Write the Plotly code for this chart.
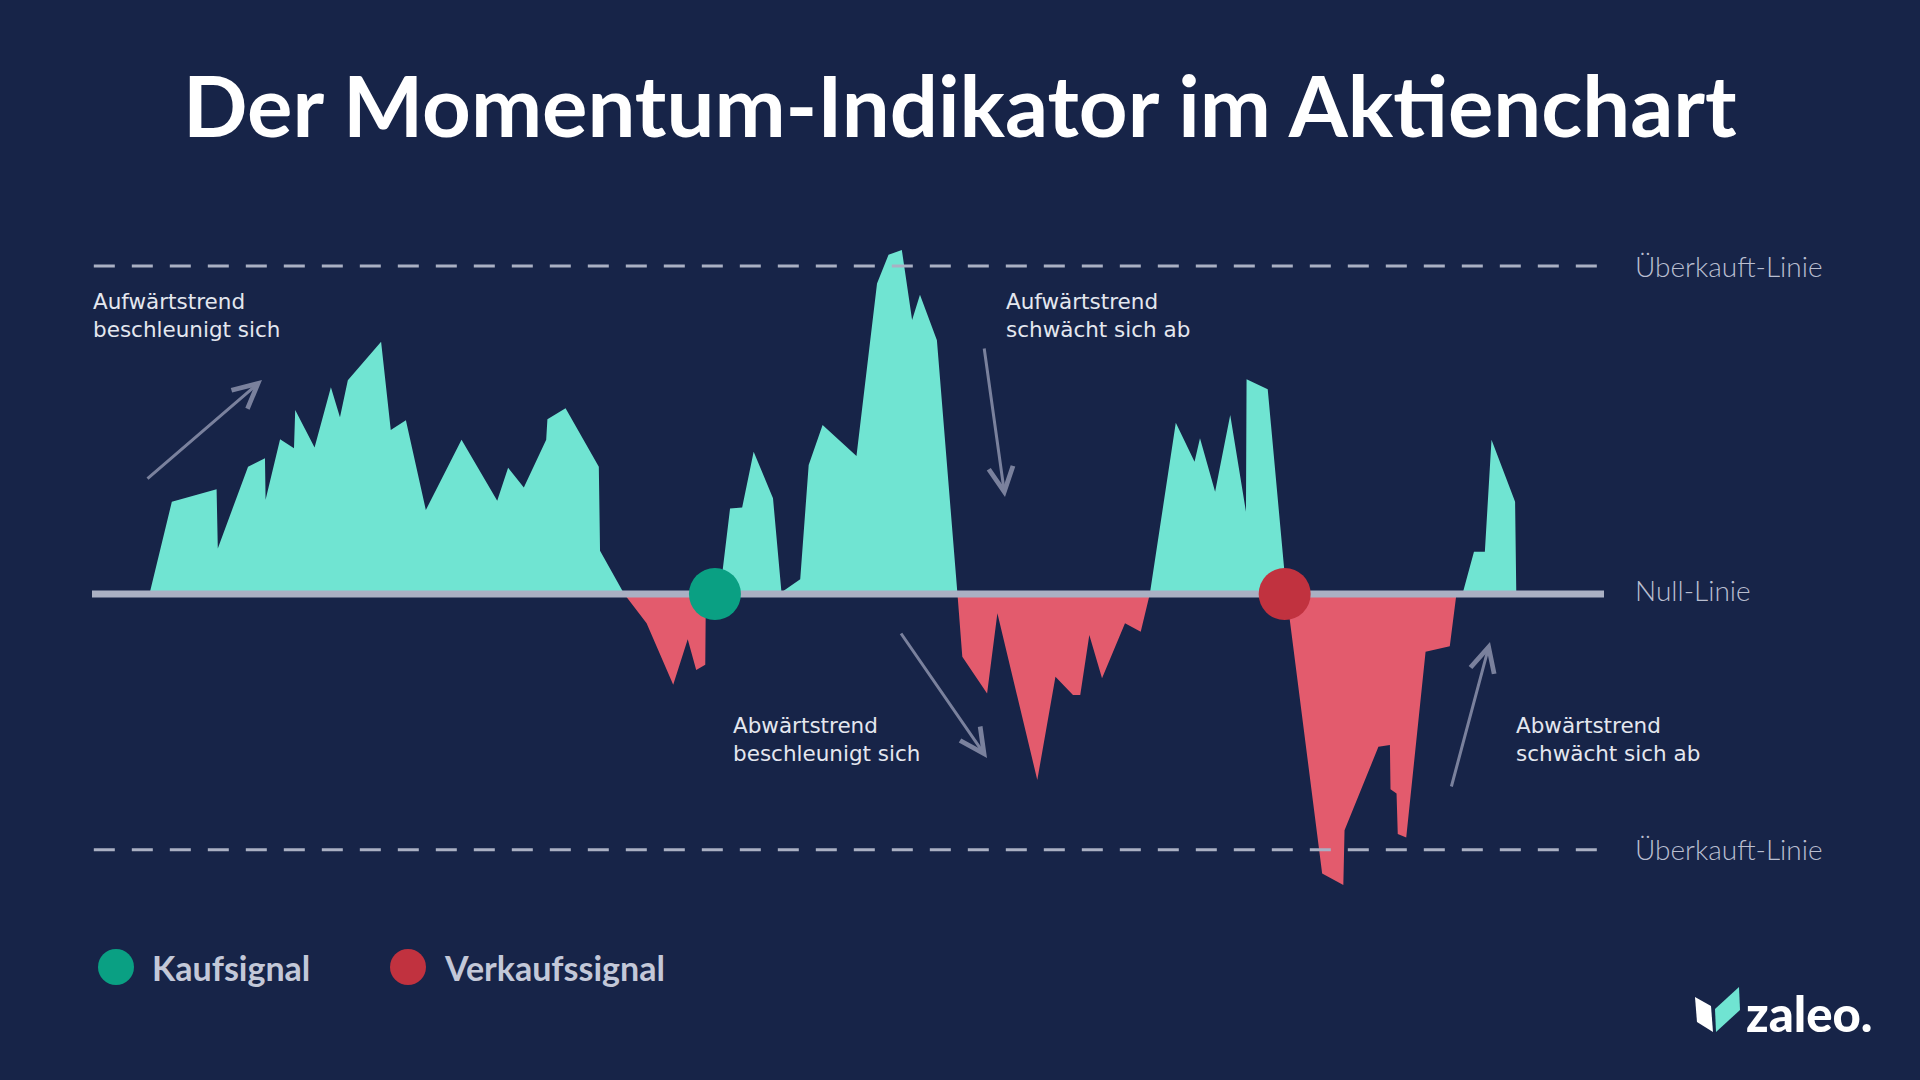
import plotly.graph_objects as go

# ---------------- data ----------------
# time index (days) and momentum values
t = [0, 9.5, 13.2, 20.6, 20.8, 25.8, 28.6, 28.7, 31.1, 33.4, 33.6, 36.8, 39.5, 41.0, 42.3,
     47.8, 49.4, 51.9, 55.2, 61.1, 67.0, 68.8, 71.4, 75.1, 75.3, 78.3, 83.8, 84.0, 88.0,
     91.7, 96.1, 98.5, 99.9, 101.4, 101.5, 103.8, 105.5, 107.5, 109.4, 112.6, 114.0, 117.1,
     118.5, 120.8, 126.4, 129.8, 131.7, 133.9, 135.6, 136.9, 139.7, 143.1, 143.9, 148.0,
     149.7, 156.3, 159.3, 162.2, 163.4, 164.9, 167.0, 170.8, 173.4, 174.9, 179.2, 182.3,
     183.2, 185.7, 188.2, 190.8, 190.9, 194.4, 197.5, 203.4, 206.9, 207.1, 212.7, 214.6,
     214.7, 215.7, 215.9, 217.3, 220.5, 224.5, 225.6, 226.6, 228.5, 230.3, 231.4, 235.3,
     235.5, 250]
momentum = [0, 0, 28.1, 31.9, 13.9, 38.8, 41.4, 28.7, 47.2, 44.4, 56.1, 44.7, 63.0, 53.9, 65.2,
            76.9, 50.0, 53.0, 25.6, 47.0, 28.4, 38.5, 32.5, 47.0, 53.3, 56.6, 38.8, 13.2, 0,
            -8.9, -27.7, -13.8, -23.2, -21.6, 0, 0, 26.1, 26.4, 43.4, 29.2, 0.5, 4.5,
            39.3, 51.5, 42.1, 94.7, 103.4, 104.9, 83.5, 91.2, 77.4, 0, -19.1, -30.3,
            -5.9, -56.7, -25.2, -30.8, -30.8, -12.5, -25.7, -8.9, -11.5, 0, 52.2, 40.3,
            47.5, 31.2, 54.6, 25.1, 65.5, 62.4, 0, -85.2, -88.7, -72.0, -46.6, -46.0,
            -59.5, -60.8, -73.2, -74.2, -17.6, -15.9, 0, 0, 12.9, 12.9, 47.0, 28.1,
            0, 0]

buy_t = [103.0]
sell_t = [197.2]
overbought_upper = 100
overbought_lower = -78
t_start, t_end = 0, 250

title = "Der Momentum-Indikator im Aktienchart"
line_labels = ["Überkauft-Linie", "Null-Linie", "Überkauft-Linie"]
notes = ["Aufwärtstrend<br>beschleunigt sich", "Aufwärtstrend<br>schwächt sich ab",
         "Abwärtstrend<br>beschleunigt sich", "Abwärtstrend<br>schwächt sich ab"]
legend_labels = ["Kaufsignal", "Verkaufssignal"]

# ---------------- styling ----------------
BG = "#172448"
GREEN = "#70e4d2"
RED = "#e35b6d"
BUY = "#0aa083"
SELL = "#c1323f"
GRAY = "#aab0c3"
ARROW = "#7a819d"
TEXT = "#e4e7ef"
LABEL = "#b9bed0"
FONT = "Lato"
NOTE_FONT = "DejaVu Sans"

W, H = 1920, 1080
X0PX, XSC = 92, 6.048   # pixel of t=0, pixels per day
Y0PX, YSC = 594, 3.28   # pixel of momentum 0, pixels per unit


def tx(xp):
    return (xp - X0PX) / XSC


def my(yp):
    return (Y0PX - yp) / YSC


def px(xp):
    return xp / W


def py(yp):
    return 1 - yp / H


pos = [max(v, 0) for v in momentum]
neg = [min(v, 0) for v in momentum]

fig = go.Figure()
fig.add_trace(go.Scatter(x=t, y=pos, mode="lines", fill="tozeroy", fillcolor=GREEN,
                         line=dict(width=0, color=GREEN), hoverinfo="skip"))
fig.add_trace(go.Scatter(x=t, y=neg, mode="lines", fill="tozeroy", fillcolor=RED,
                         line=dict(width=0, color=RED), hoverinfo="skip"))
# overbought dashed lines
for lvl in (overbought_upper, overbought_lower):
    fig.add_trace(go.Scatter(x=[t_start + 0.3, t_end - 0.6], y=[lvl, lvl], mode="lines",
                             line=dict(color=GRAY, width=3, dash="21px,17px"),
                             hoverinfo="skip"))
# zero line
fig.add_trace(go.Scatter(x=[t_start, t_end], y=[0, 0], mode="lines",
                         line=dict(color=GRAY, width=7), hoverinfo="skip"))
# signals
fig.add_trace(go.Scatter(x=buy_t, y=[0] * len(buy_t), mode="markers",
                         marker=dict(size=52, color=BUY, line=dict(width=0)), hoverinfo="skip"))
fig.add_trace(go.Scatter(x=sell_t, y=[0] * len(sell_t), mode="markers",
                         marker=dict(size=52, color=SELL, line=dict(width=0)), hoverinfo="skip"))

ann = []
# title
ann.append(dict(text=title, x=0.5, y=py(104), xref="paper", yref="paper",
                xanchor="center", yanchor="middle", showarrow=False,
                font=dict(family=FONT, size=85, color="#ffffff", weight=700)))
# right labels
for lab, yp in zip(line_labels, [266, 590, 849]):
    ann.append(dict(text=lab, x=px(1633), y=py(yp), xref="paper", yref="paper",
                    xanchor="left", yanchor="middle", showarrow=False,
                    font=dict(family=FONT, size=28, color=LABEL, weight=300)))
# notes
for note, (xp, yp) in zip(notes, [(91, 316), (1004, 316), (731, 739), (1514, 739)]):
    ann.append(dict(text=note, x=px(xp), y=py(yp), xref="paper", yref="paper",
                    xanchor="left", yanchor="middle", align="left", showarrow=False,
                    font=dict(family=NOTE_FONT, size=21.5, color=TEXT)))
# arrows (tail -> head), in data coords
for (x1, y1, x2, y2) in [(146, 480, 262, 380), (984, 347, 1005, 497),
                         (900, 632, 987, 758), (1451, 788, 1490, 642)]:
    ann.append(dict(text="", x=tx(x2), y=my(y2), ax=tx(x1), ay=my(y1),
                    xref="x", yref="y", axref="x", ayref="y", showarrow=True,
                    arrowhead=5, arrowsize=1.6, arrowwidth=3, arrowcolor=ARROW,
                    standoff=0, startstandoff=0))
# legend
for lab, cx, col in zip(legend_labels, [116, 408], [BUY, SELL]):
    ann.append(dict(text=lab, x=px(cx + 34), y=py(967), xref="paper", yref="paper",
                    xanchor="left", yanchor="middle", showarrow=False,
                    font=dict(family=FONT, size=34, color="#c3c8d8", weight=700)))
# logo text
ann.append(dict(text="zaleo.", x=px(1744), y=py(1013), xref="paper", yref="paper",
                xanchor="left", yanchor="middle", showarrow=False,
                font=dict(family=FONT, size=49, color="#ffffff", weight=900)))

shapes = []
for cx, col in zip([116, 408], [BUY, SELL]):
    shapes.append(dict(type="circle", xref="paper", yref="paper",
                       x0=px(cx - 18), x1=px(cx + 18), y0=py(967 + 18), y1=py(967 - 18),
                       fillcolor=col, line=dict(width=0)))


def path(points):
    return "M " + " L ".join(f"{px(a):.5f},{py(b):.5f}" for a, b in points) + " Z"


shapes.append(dict(type="path", xref="paper", yref="paper",
                   path=path([(1695, 997), (1711, 1006), (1713, 1032), (1697, 1022)]),
                   fillcolor="#ffffff", line=dict(width=0)))
shapes.append(dict(type="path", xref="paper", yref="paper",
                   path=path([(1715, 1009), (1739, 987), (1740, 1010), (1716, 1032)]),
                   fillcolor=GREEN, line=dict(width=0)))

fig.update_layout(
    width=W, height=H, margin=dict(l=0, r=0, t=0, b=0),
    paper_bgcolor=BG, plot_bgcolor=BG, showlegend=False,
    xaxis=dict(range=[tx(0), tx(W)], visible=False, fixedrange=True),
    yaxis=dict(range=[my(H), my(0)], visible=False, fixedrange=True),
    annotations=ann, shapes=shapes,
)

fig.write_html(
    "out.html",
    config={"displayModeBar": False},
    post_script="document.body.style.margin='0';"
                "document.body.style.overflow='hidden';"
                "document.body.style.background='" + BG + "';",
)
